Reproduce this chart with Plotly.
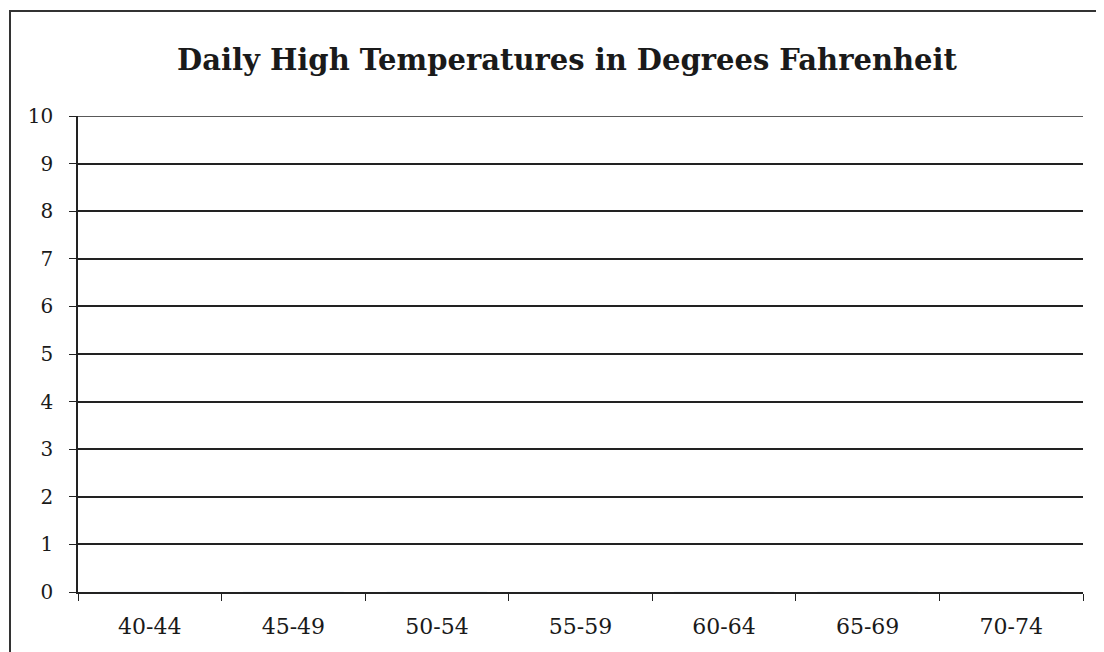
import plotly.graph_objects as go

categories = ["40-44", "45-49", "50-54", "55-59", "60-64", "65-69", "70-74"]
counts = [0, 0, 0, 0, 0, 0, 0]
y_ticks = list(range(0, 11))
y_max = 10

# page body has an 8px default margin; compensate
OFF = 8
W, H = 1104, 652
L, R, T, B = 78 - OFF, 21 + OFF, 116 - OFF, 60 + OFF
pw, ph = W - L - R, H - T - B

def px(x):
    return (x - OFF - L) / pw

def py(y):
    return (H - B - (y - OFF)) / ph

fig = go.Figure()
fig.add_trace(go.Bar(x=categories, y=counts, marker_color="#4472c4", showlegend=False))

fig.update_layout(
    width=W, height=H,
    margin=dict(l=L, r=R, t=T, b=B),
    paper_bgcolor="white", plot_bgcolor="white",
    font=dict(family="DejaVu Serif", color="#1a1a1a", size=20),
    title=dict(text="<b>Daily High Temperatures in Degrees Fahrenheit</b>",
               x=((172 + 962) / 2 - OFF) / W, xanchor="center",
               y=1 - (60 - OFF) / H, yanchor="middle",
               font=dict(family="DejaVu Serif", size=29, color="#1a1a1a")),
    bargap=0.3,
)
fig.update_xaxes(
    type="category", tickson="boundaries", ticks="outside", ticklen=7, tickcolor="#222",
    showline=True, linecolor="#222", linewidth=1.5, showgrid=False,
    tickfont=dict(size=22), ticklabelstandoff=14,
)
fig.update_yaxes(
    range=[0, y_max], tickvals=y_ticks, ticks="outside", ticklen=7, tickcolor="#222",
    showline=True, linecolor="#222", linewidth=1.5,
    showgrid=True, gridcolor="#222", gridwidth=1.5, zeroline=False,
    tickfont=dict(size=20), ticklabelstandoff=12,
)
# top gridline (plotly omits the gridline on the plot edge)
fig.add_shape(type="line", xref="paper", yref="y", x0=0, x1=1, y0=y_max, y1=y_max,
              line=dict(color="#222", width=1.5), layer="above")
fig.add_shape(type="rect", xref="paper", yref="paper",
              x0=px(10), x1=px(1125), y0=py(670), y1=py(11),
              line=dict(color="#333", width=2), fillcolor="rgba(0,0,0,0)", layer="above")

fig.write_html("out.html")
